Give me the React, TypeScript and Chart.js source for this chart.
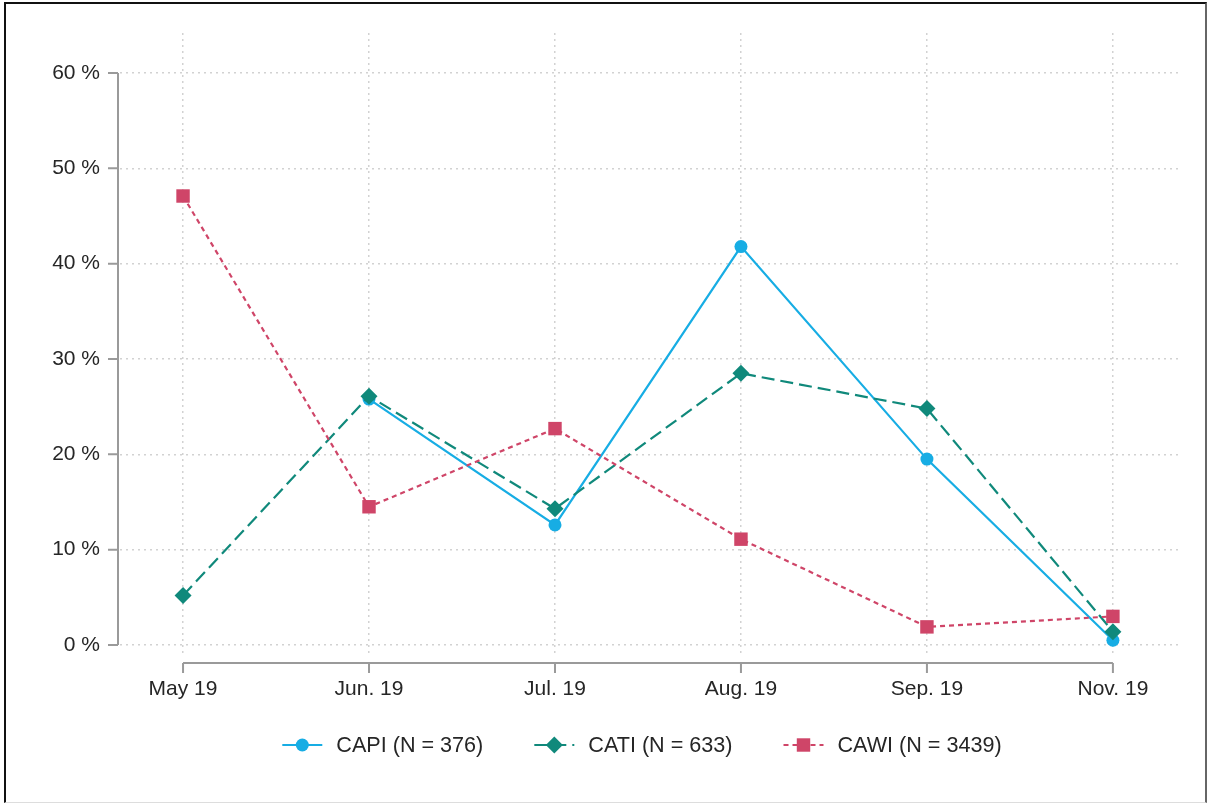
import React, { useEffect, useRef } from "react";
import { Chart, registerables } from "chart.js";

Chart.register(...registerables);

// ---- data ----
const categories = ["May 19", "Jun. 19", "Jul. 19", "Aug. 19", "Sep. 19", "Nov. 19"];
const yTickValues = [0, 10, 20, 30, 40, 50, 60];
const capiValues = [null, 25.8, 12.6, 41.8, 19.5, 0.5];
const catiValues = [5.2, 26.1, 14.3, 28.5, 24.8, 1.4];
const cawiValues = [47.1, 14.5, 22.7, 11.1, 1.9, 3.0];
const seriesLabels = ["CAPI (N = 376)", "CATI (N = 633)", "CAWI (N = 3439)"];

const FONT_FAMILY = '"Liberation Sans", Arial, Helvetica, sans-serif';
const FONT_SIZE = 21;
const LEGEND_FONT_SIZE = 21.6;
const TEXT_COLOR = "#262626";
const GRID_COLOR = "#d2d2d2";
const AXIS_COLOR = "#9a9a9a";

const COLORS = {
  capi: "#17ade4",
  cati: "#10897b",
  cawi: "#cf4568",
};

function toPoints(values: (number | null)[]) {
  return values.map((v, i) => ({ x: i, y: v }));
}

function drawMarker(ctx: CanvasRenderingContext2D, style: string, x: number, y: number, r: number, color: string) {
  ctx.save();
  ctx.fillStyle = color;
  ctx.setLineDash([]);
  ctx.beginPath();
  if (style === "circle") {
    ctx.arc(x, y, r, 0, Math.PI * 2);
  } else if (style === "rectRot") {
    ctx.moveTo(x - r, y);
    ctx.lineTo(x, y - r);
    ctx.lineTo(x + r, y);
    ctx.lineTo(x, y + r);
    ctx.closePath();
  } else {
    const s = Math.SQRT1_2 * r;
    ctx.rect(x - s, y - s, 2 * s, 2 * s);
  }
  ctx.fill();
  ctx.restore();
}

const axisLinesPlugin = {
  id: "offsetAxes",
  afterDraw(chart: any) {
    const { ctx, chartArea, scales } = chart;
    const xs = scales.x;
    const ys = scales.y;
    ctx.save();
    ctx.strokeStyle = AXIS_COLOR;
    ctx.lineWidth = 2;
    ctx.setLineDash([]);
    // y axis
    const ax = chartArea.left - 2;
    const yTop = ys.getPixelForValue(yTickValues[yTickValues.length - 1]);
    const yBot = ys.getPixelForValue(yTickValues[0]);
    ctx.beginPath();
    ctx.moveTo(ax, yTop);
    ctx.lineTo(ax, yBot);
    yTickValues.forEach((v) => {
      const py = ys.getPixelForValue(v);
      ctx.moveTo(ax, py);
      ctx.lineTo(ax - 10, py);
    });
    ctx.stroke();
    // x axis
    const ay = chartArea.bottom + 6;
    const xl = xs.getPixelForValue(0);
    const xr = xs.getPixelForValue(categories.length - 1);
    ctx.beginPath();
    ctx.moveTo(xl, ay);
    ctx.lineTo(xr, ay);
    categories.forEach((_, i) => {
      const px = xs.getPixelForValue(i);
      ctx.moveTo(px, ay);
      ctx.lineTo(px, ay + 10);
    });
    ctx.stroke();
    ctx.restore();
  },
};

const legendPlugin = {
  id: "lineLegend",
  afterDraw(chart: any) {
    const { ctx } = chart;
    const datasets = chart.data.datasets;
    const sampleW = 40;
    const gapST = 14;
    const gapItems = 51;
    const centerX = 642;
    const cy = 745;
    ctx.save();
    ctx.font = `${LEGEND_FONT_SIZE}px ${FONT_FAMILY}`;
    ctx.textBaseline = "middle";
    ctx.textAlign = "left";
    const widths = datasets.map((d: any) => ctx.measureText(d.label).width);
    let total = 0;
    widths.forEach((w: number, i: number) => {
      total += sampleW + gapST + w + (i < widths.length - 1 ? gapItems : 0);
    });
    let x = centerX - total / 2;
    datasets.forEach((d: any, i: number) => {
      ctx.save();
      ctx.strokeStyle = d.borderColor;
      ctx.lineWidth = d.borderWidth;
      ctx.setLineDash(d.borderDash || []);
      ctx.beginPath();
      ctx.moveTo(x, cy);
      ctx.lineTo(x + sampleW, cy);
      ctx.stroke();
      ctx.restore();
      drawMarker(ctx, d.pointStyle, x + sampleW / 2, cy, d.pointRadius, d.pointBackgroundColor);
      ctx.fillStyle = TEXT_COLOR;
      ctx.fillText(d.label, x + sampleW + gapST, cy + 1);
      x += sampleW + gapST + widths[i] + gapItems;
    });
    ctx.restore();
  },
};

export default function App() {
  const canvasRef = useRef<HTMLCanvasElement | null>(null);

  useEffect(() => {
    if (!canvasRef.current) return;
    const font = { family: FONT_FAMILY, size: FONT_SIZE };
    const chart = new Chart(canvasRef.current, {
      type: "line",
      data: {
        datasets: [
          {
            label: seriesLabels[0],
            data: toPoints(capiValues),
            borderColor: COLORS.capi,
            backgroundColor: COLORS.capi,
            pointBackgroundColor: COLORS.capi,
            pointBorderColor: COLORS.capi,
            pointBorderWidth: 0,
            borderWidth: 2.2,
            borderDash: [],
            pointStyle: "circle",
            pointRadius: 6.5,
            spanGaps: false,
            order: 3,
          },
          {
            label: seriesLabels[1],
            data: toPoints(catiValues),
            borderColor: COLORS.cati,
            backgroundColor: COLORS.cati,
            pointBackgroundColor: COLORS.cati,
            pointBorderColor: COLORS.cati,
            pointBorderWidth: 0,
            borderWidth: 2.2,
            borderDash: [13, 6],
            pointStyle: "rectRot",
            pointRadius: 8.5,
            order: 2,
          },
          {
            label: seriesLabels[2],
            data: toPoints(cawiValues),
            borderColor: COLORS.cawi,
            backgroundColor: COLORS.cawi,
            pointBackgroundColor: COLORS.cawi,
            pointBorderColor: COLORS.cawi,
            pointBorderWidth: 0,
            borderWidth: 2.2,
            borderDash: [5, 4],
            pointStyle: "rect",
            pointRadius: 9.5,
            order: 1,
          },
        ],
      },
      options: {
        responsive: false,
        animation: false,
        devicePixelRatio: 1,
        layout: { padding: { left: 0, right: 29, top: 33, bottom: 0 } },
        plugins: {
          legend: { display: false },
          tooltip: { enabled: false },
        },
        elements: { line: { tension: 0 } },
        scales: {
          x: {
            type: "linear",
            min: -0.339,
            max: 5.35,
            afterBuildTicks: (s: any) => {
              s.ticks = categories.map((_, i) => ({ value: i }));
            },
            afterFit: (s: any) => {
              s.height = 147;
            },
            ticks: {
              callback: (v: any) => categories[v as number] ?? "",
              padding: 20,
              font,
              color: TEXT_COLOR,
              maxRotation: 0,
              autoSkip: false,
            },
            grid: { drawTicks: false, color: GRID_COLOR, lineWidth: 1.5 },
            border: { display: false, dash: [2, 4] },
          },
          y: {
            type: "linear",
            min: -1.26,
            max: 64.2,
            afterBuildTicks: (s: any) => {
              s.ticks = yTickValues.map((v) => ({ value: v }));
            },
            afterFit: (s: any) => {
              s.width = 120;
            },
            ticks: {
              callback: (v: any) => `${v} %`,
              padding: 20,
              font,
              color: TEXT_COLOR,
              autoSkip: false,
            },
            grid: { drawTicks: false, color: GRID_COLOR, lineWidth: 1.5 },
            border: { display: false, dash: [2, 4] },
          },
        },
      },
      plugins: [axisLinesPlugin, legendPlugin],
    } as any);
    return () => chart.destroy();
  }, []);

  return (
    <div style={{ position: "absolute", left: 0, top: 0, width: 1207, height: 804, background: "#fff" }}>
      <canvas ref={canvasRef} width={1207} height={804} style={{ display: "block", position: "absolute", left: 0, top: 0 }} />
      <div
        style={{
          position: "absolute",
          left: 4,
          top: 2,
          width: 1203,
          height: 801,
          boxSizing: "border-box",
          borderLeft: "2px solid #111",
          borderTop: "2px solid #111",
          borderRight: "2px solid #666",
          borderBottom: "1px solid #ddd",
          pointerEvents: "none",
        }}
      />
    </div>
  );
}
